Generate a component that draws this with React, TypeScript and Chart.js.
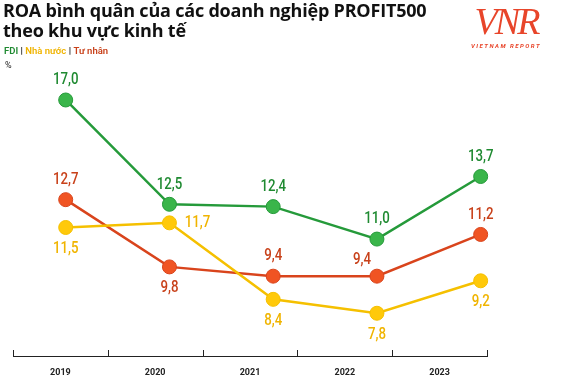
import React, { useEffect, useRef } from "react";
import { Chart, registerables } from "chart.js";

Chart.register(...registerables);

const years = ["2019", "2020", "2021", "2022", "2023"];
const yearValues = [2019, 2020, 2021, 2022, 2023];
const fdi = [17.0, 12.5, 12.4, 11.0, 13.7];
const stateOwned = [11.5, 11.7, 8.4, 7.8, 9.2];
const privateSector = [12.7, 9.8, 9.4, 9.4, 11.2];

const seriesNames = ["FDI", "Nhà nước", "Tư nhân"];

// label placement (styling)
const labelPlacement = [
  ["top", "top", "top", "top", "top"],
  ["bottom", "right", "bottom", "bottom", "bottom"],
  ["top", "bottom", "top", "topleft", "top"],
];

const LINE = ["#259a3a", "#f5c000", "#d9441c"];
const POINT = ["#3ab54a", "#ffc90a", "#f05423"];
const LABEL = ["#1f8a31", "#f0b400", "#c8411a"];

const fmt = (v: number) => v.toFixed(1).replace(".", ",");

const labelPlugin = {
  id: "valueLabels",
  afterDatasetsDraw(chart: any) {
    const ctx = chart.ctx;
    const sx = 0.78;
    chart.data.datasets.forEach((ds: any, i: number) => {
      const meta = chart.getDatasetMeta(i);
      meta.data.forEach((pt: any, j: number) => {
        const place = labelPlacement[i][j];
        let x = pt.x;
        let y = pt.y;
        if (place === "top") y -= 20;
        else if (place === "bottom") y += 21;
        else if (place === "right") x += 28;
        else if (place === "topleft") {
          x -= 15;
          y -= 16;
        }
        ctx.save();
        ctx.translate(x, y);
        ctx.scale(sx, 1);
        ctx.font = "500 17px Roboto, sans-serif";
        ctx.textAlign = "center";
        ctx.textBaseline = "middle";
        ctx.fillStyle = LABEL[i];
        ctx.fillText(fmt(ds.data[j].y), 0, 0);
        ctx.restore();
      });
    });
  },
};

const tickPlugin = {
  id: "upTicks",
  afterDraw(chart: any) {
    const s = chart.scales.x;
    const ctx = chart.ctx;
    const n = s.ticks.length;
    const step = (s.right - s.left) / n;
    ctx.save();
    ctx.strokeStyle = "#222";
    ctx.lineWidth = 1;
    for (let i = 0; i <= n; i++) {
      const x = Math.round(s.left + i * step) + 0.5;
      ctx.beginPath();
      ctx.moveTo(x, s.top);
      ctx.lineTo(x, s.top - 6);
      ctx.stroke();
    }
    ctx.restore();
  },
};

export default function App() {
  const ref = useRef<HTMLCanvasElement | null>(null);
  useEffect(() => {
    if (!ref.current) return;
    const mk = (vals: number[], i: number) => ({
      label: seriesNames[i],
      data: vals.map((v, k) => ({ x: yearValues[k], y: v })),
      xAxisID: "xp",
      yAxisID: "y",
      borderColor: LINE[i],
      backgroundColor: POINT[i],
      pointBackgroundColor: POINT[i],
      pointBorderColor: LINE[i],
      pointBorderWidth: 1,
      pointRadius: 7,
      borderWidth: 2.5,
      tension: 0,
      clip: false as any,
    });
    const chart = new Chart(ref.current, {
      type: "line",
      data: {
        datasets: [mk(fdi, 0), mk(stateOwned, 1), mk(privateSector, 2)] as any,
      },
      plugins: [labelPlugin, tickPlugin],
      options: {
        animation: false,
        responsive: false,
        layout: { padding: { left: 13, right: 85, top: 54, bottom: 0 } },
        plugins: { legend: { display: false }, tooltip: { enabled: false }, title: { display: false } },
        scales: {
          x: {
            type: "category",
            labels: years,
            offset: true,
            position: "bottom",
            grid: { display: false },
            border: { display: true, color: "#222", width: 1 },
            ticks: {
              padding: 3,
              color: "#222",
              font: { family: "Roboto, sans-serif", size: 9, weight: "bold" },
            },
            afterFit: (s: any) => {
              s.height = 30;
            },
          },
          xp: {
            type: "linear",
            display: false,
            min: 2018.492,
            max: 2023.061,
          },
          y: {
            type: "linear",
            display: false,
            min: 5.956,
            max: 18.984,
          },
        },
      },
    });
    return () => chart.destroy();
  }, []);

  const legendStyle: React.CSSProperties = { fontWeight: 600 };
  return (
    <div style={{ position: "fixed", left: 0, top: 0, width: 572, height: 386, background: "#fff", fontFamily: "Roboto, sans-serif" }}>
      <canvas ref={ref} width={572} height={386} style={{ position: "absolute", left: 0, top: 0 }} />
      <div style={{ position: "absolute", left: 3, top: 0, fontSize: 18, fontWeight: 700, lineHeight: "20px", color: "#111", fontFamily: "'Open Sans', sans-serif", letterSpacing: -0.2, whiteSpace: "nowrap" }}>
        ROA bình quân của các doanh nghiệp PROFIT500
        <br />
        theo khu vực kinh tế
      </div>
      <div style={{ position: "absolute", left: 4, top: 45, fontSize: 9.5, lineHeight: "12px", fontFamily: "Roboto, sans-serif" }}>
        <span style={{ ...legendStyle, color: LABEL[0] }}>FDI</span>
        <span style={{ color: "#111", fontWeight: 700 }}> | </span>
        <span style={{ ...legendStyle, color: LABEL[1] }}>Nhà nước</span>
        <span style={{ color: "#111", fontWeight: 700 }}> | </span>
        <span style={{ ...legendStyle, color: LABEL[2] }}>Tư nhân</span>
      </div>
      <div style={{ position: "absolute", left: 5, top: 59, fontSize: 9, lineHeight: "12px", color: "#222" }}>%</div>
      <div style={{ position: "absolute", left: 466, top: 0, width: 80, textAlign: "center", color: "#e8452a" }}>
        <div style={{ fontFamily: "'Liberation Serif', serif", fontStyle: "italic", fontSize: 38, lineHeight: "42px", letterSpacing: -3 }}>VNR</div>
        <div style={{ fontSize: 6, fontWeight: 700, fontStyle: "italic", letterSpacing: 1.5, lineHeight: "8px", marginTop: 0 }}>VIETNAM REPORT</div>
      </div>
    </div>
  );
}
